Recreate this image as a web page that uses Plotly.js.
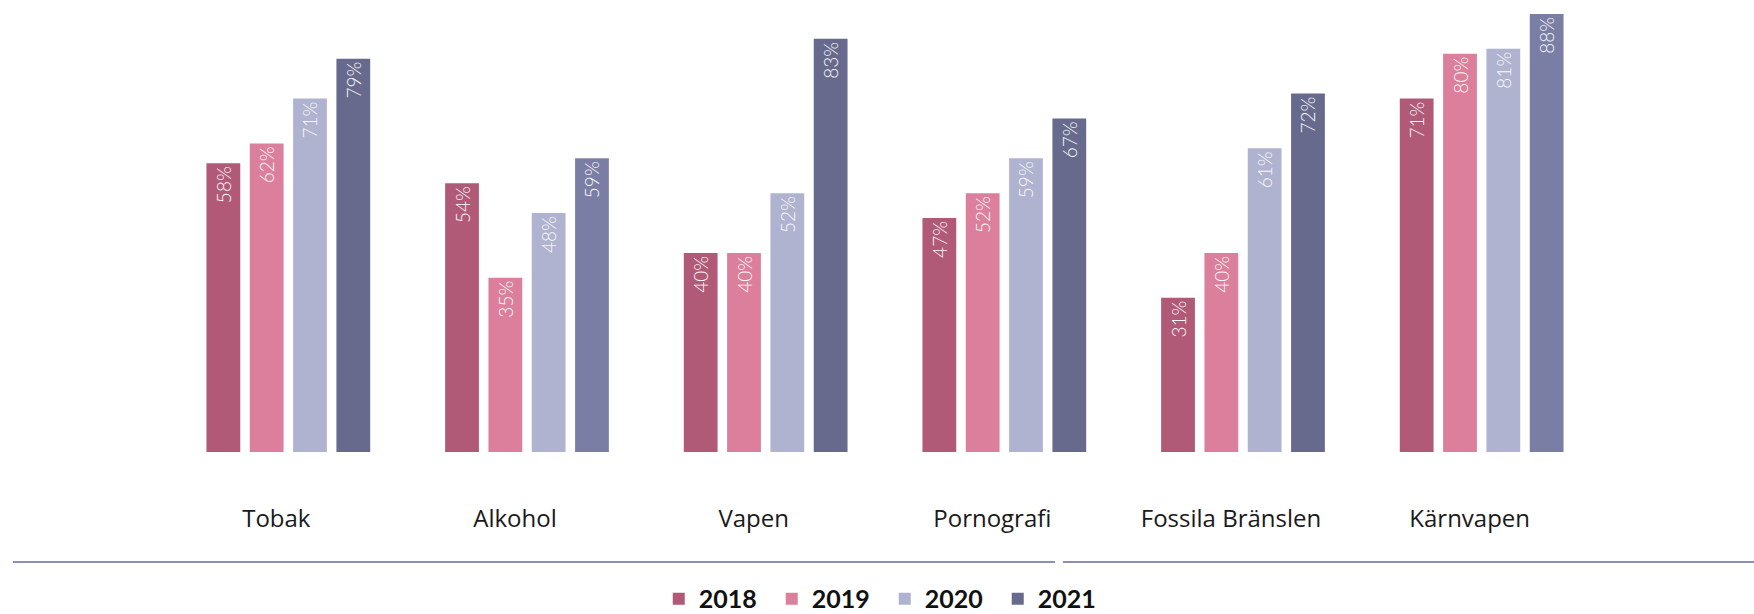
<!DOCTYPE html>
<html>
<head>
<meta charset="utf-8">
<script src="https://cdn.plot.ly/plotly-3.0.1.min.js"></script>
<style>
  html, body { margin: 0; padding: 0; background: #ffffff; }
  #chart { width: 1754px; height: 614px; }
</style>
</head>
<body>
<div id="chart"></div>
<script>
// ---- data ----
const categories = ["Tobak", "Alkohol", "Vapen", "Pornografi", "Fossila Bränslen", "Kärnvapen"];
const years = ["2018", "2019", "2020", "2021"];
const values2018 = [58, 54, 40, 47, 31, 71];
const values2019 = [62, 35, 40, 52, 40, 80];
const values2020 = [71, 48, 52, 59, 61, 81];
const values2021 = [79, 59, 83, 67, 72, 88];

// ---- styles ----
const yearColors = ["#b05a78", "#dc7f9c", "#b0b3d0", "#676a8c"];
const colors2021 = ["#676a8c", "#7b7ea4", "#676a8c", "#676a8c", "#676a8c", "#7b7ea4"];

const seriesValues = [values2018, values2019, values2020, values2021];

const traces = seriesValues.map((vals, i) => ({
  type: "bar",
  name: years[i],
  x: categories,
  y: vals,
  marker: { color: i === 3 ? colors2021 : yearColors[i], line: { width: 0 } },
  texttemplate: "%{y}%",
  textposition: "inside",
  insidetextanchor: "end",
  textangle: -90,
  constraintext: "none",
  insidetextfont: { family: "Lato, 'Open Sans', sans-serif", size: 19, color: "#f7f7f7", weight: 300 },
  hoverinfo: "skip"
}));

const lineColor = "#8d8fb6";

const layout = {
  width: 1754,
  height: 614,
  paper_bgcolor: "#ffffff",
  plot_bgcolor: "#ffffff",
  margin: { l: 169, r: 153, t: 4, b: 162, pad: 0, autoexpand: false },
  barmode: "group",
  bargap: 0.274,
  bargroupgap: 0.22,
  showlegend: true,
  legend: {
    orientation: "h",
    x: 0.342, xanchor: "left",
    y: -0.328, yanchor: "middle",
    entrywidth: 68,
    font: { family: "Lato, 'Noto Sans', sans-serif", size: 25, color: "#111111", weight: 700 },
    traceorder: "normal",
    itemclick: false, itemdoubleclick: false
  },
  xaxis: {
    type: "category",
    range: [-0.5, 5.5],
    showgrid: false, zeroline: false, showline: false,
    ticks: "",
    ticklabelstandoff: 50,
    ticklabelshift: -12,
    automargin: false,
    tickfont: { family: "'Open Sans', Lato, sans-serif", size: 24, color: "#1a1a1a" },
    fixedrange: true
  },
  yaxis: {
    range: [0, 90],
    visible: false,
    showgrid: false, zeroline: false,
    fixedrange: true
  },
  shapes: [
    { type: "line", xref: "paper", yref: "paper", x0: -0.109, x1: 0.6187, y0: -0.2455, y1: -0.2455,
      line: { color: lineColor, width: 2 } },
    { type: "line", xref: "paper", yref: "paper", x0: 0.6243, x1: 1.2, y0: -0.2455, y1: -0.2455,
      line: { color: lineColor, width: 2 } }
  ]
};

Plotly.newPlot("chart", traces, layout, { displayModeBar: false, staticPlot: true });
</script>
</body>
</html>
